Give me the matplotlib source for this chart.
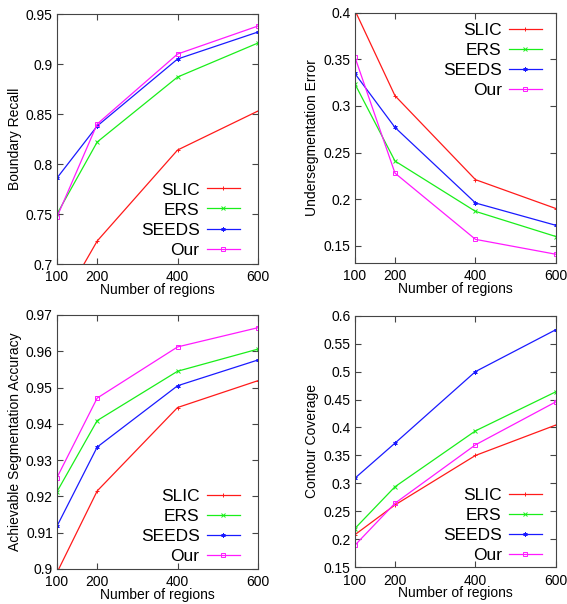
import numpy as np
import matplotlib.pyplot as plt

plt.rcParams["font.family"] = ["Liberation Sans", "DejaVu Sans"]

# x values (number of regions)
regions = [100, 200, 400, 600]
methods = ["SLIC", "ERS", "SEEDS", "Our"]

# Boundary Recall
br_slic = [0.653, 0.723, 0.814, 0.853]
br_ers = [0.750, 0.822, 0.887, 0.921]
br_seeds = [0.786, 0.838, 0.905, 0.932]
br_our = [0.747, 0.840, 0.910, 0.938]

# Undersegmentation Error
ue_slic = [0.403, 0.311, 0.221, 0.190]
ue_ers = [0.324, 0.241, 0.187, 0.160]
ue_seeds = [0.335, 0.277, 0.196, 0.172]
ue_our = [0.353, 0.228, 0.157, 0.141]

# Achievable Segmentation Accuracy
asa_slic = [0.899, 0.9215, 0.9445, 0.9519]
asa_ers = [0.9213, 0.9409, 0.9545, 0.9606]
asa_seeds = [0.9118, 0.9336, 0.9505, 0.9576]
asa_our = [0.9252, 0.9471, 0.9612, 0.9665]

# Contour Coverage
cc_slic = [0.208, 0.2615, 0.350, 0.4045]
cc_ers = [0.219, 0.294, 0.394, 0.464]
cc_seeds = [0.309, 0.372, 0.500, 0.575]
cc_our = [0.189, 0.2645, 0.369, 0.446]

colors = ["#ff1a1a", "#1aee1a", "#1a1aff", "#ff1aff"]
# gnuplot-like point types: plus, cross, asterisk, open square
markers = ["+", "x", (6, 2, 0), "s"]

panels = [
    # (axes rect, series, ylabel, ylim, yticks, yticklabels, legend loc, legend anchor)
    ([0.1005, 0.5629, 0.3545, 0.4139], [br_slic, br_ers, br_seeds, br_our],
     "Boundary Recall", (0.7, 0.95),
     [0.7, 0.75, 0.8, 0.85, 0.9, 0.95], ["0.7", "0.75", "0.8", "0.85", "0.9", "0.95"],
     "lower right", (0.96, -0.016)),
    ([0.6256, 0.5651, 0.3550, 0.4139], [ue_slic, ue_ers, ue_seeds, ue_our],
     "Undersegmentation Error", (0.132, 0.4),
     [0.15, 0.2, 0.25, 0.3, 0.35, 0.4], ["0.15", "0.2", "0.25", "0.3", "0.35", "0.4"],
     "upper right", (0.98, 1.002)),
    ([0.1005, 0.0580, 0.3545, 0.4205], [asa_slic, asa_ers, asa_seeds, asa_our],
     "Achievable Segmentation Accuracy", (0.9, 0.97),
     [0.9, 0.91, 0.92, 0.93, 0.94, 0.95, 0.96, 0.97],
     ["0.9", "0.91", "0.92", "0.93", "0.94", "0.95", "0.96", "0.97"],
     "lower right", (0.96, -0.02)),
    ([0.6256, 0.0608, 0.3550, 0.4166], [cc_slic, cc_ers, cc_seeds, cc_our],
     "Contour Coverage", (0.15, 0.6),
     [0.15, 0.2, 0.25, 0.3, 0.35, 0.4, 0.45, 0.5, 0.55, 0.6],
     ["0.15", "0.2", "0.25", "0.3", "0.35", "0.4", "0.45", "0.5", "0.55", "0.6"],
     "lower right", (0.98, -0.025)),
]

fig = plt.figure(figsize=(5.67, 6.04), dpi=100)

for rect, series, ylabel, ylim, yticks, yticklabels, loc, anchor in panels:
    ax = fig.add_axes(rect)
    for vals, name, c, m in zip(series, methods, colors, markers):
        ax.plot(regions, vals, color=c, marker=m,
                markersize=3 if m != "s" else 3.2,
                markerfacecolor="none" if m == "s" else c, markeredgewidth=0.7,
                linewidth=0.9, label=name)
    ax.set_xlim(100, 600)
    ax.set_ylim(*ylim)
    ax.set_xticks(regions)
    ax.set_xticklabels([str(r) for r in regions])
    ax.set_yticks(yticks)
    ax.set_yticklabels(yticklabels)
    ax.tick_params(direction="in", top=True, right=True, length=4, width=0.8,
                   labelsize=10, color="#444444")
    ax.tick_params(axis="x", pad=4.5)
    ax.tick_params(axis="y", pad=3)
    for s in ax.spines.values():
        s.set_color("#444444")
        s.set_linewidth(0.8)
    ax.set_xlabel("Number of regions", fontsize=10, labelpad=-1)
    ax.set_ylabel(ylabel, fontsize=10, labelpad=3)
    ax.legend(loc=loc, bbox_to_anchor=anchor, frameon=False, markerfirst=False,
              fontsize=12.5, handlelength=1.9, handletextpad=0.4, labelspacing=0.28,
              borderaxespad=0.2)

fig.savefig("out.png", dpi=100)
